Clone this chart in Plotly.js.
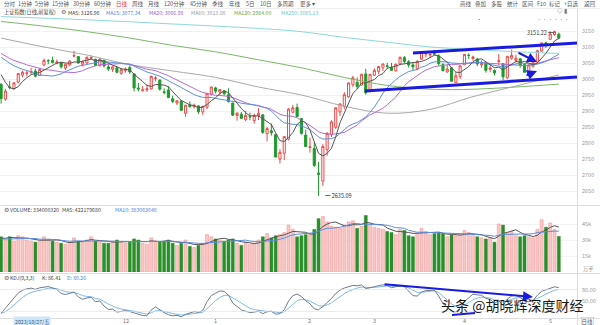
<!DOCTYPE html>
<html><head><meta charset="utf-8">
<script src="https://cdn.plot.ly/plotly-3.0.1.min.js"></script>
<style>html,body{margin:0;padding:0;background:#fff;}#chart{width:600px;height:325px;}</style>
</head><body><div id="chart"></div>
<script>
// ---------- DATA (Shanghai Composite, daily, 2023-10-23 .. 2024-05-08) ----------
const opens = [2983,2937,2975,2970,2990,3012,3018,
3021,3025,3011,3044,3057,3058,3050,3051,3034,3044,3072,3070,3046,3050,3065,3062,3041,3058,3038,3030,3035,3018,
3027,3036,3016,2972,2963,2966,2969,3002,2997,2960,2966,2938,2925,2931,2893,2919,2913,2916,2897,2912,2953,
2972,2959,2963,2951,2925,2886,2890,2873,2882,2870,2885,2888,2829,2838,2826,2750,2768,2812,2896,2911,2876,2825,
2786,2783,2706,2681,2779,2826,2849,2897,2914,2944,2982,2990,2981,3016,2962,
3012,3024,3035,3041,3037,3025,3047,3067,3054,3044,3032,3062,3078,3075,3080,3072,3045,3022,3035,2989,3008,
3044,3074,3064,3062,3044,3049,3030,3027,3055,3048,3004,3065,3058,3063,3045,3017,3040,3053,3087,3113,
3124,3139,3140];
const highs = [2988,2969,2994,2989,3019,3026,3027,
3035,3032,3035,3064,3062,3070,3061,3055,3048,3059,3088,3072,3058,3070,3073,3063,3065,3060,3045,3040,3038,3035,
3036,3043,3018,2988,2978,2983,3011,3009,2998,2971,2978,2948,2934,2934,2919,2930,2923,2918,2915,2956,2976,
2976,2967,2965,2971,2926,2897,2897,2900,2895,2892,2909,2889,2851,2861,2829,2781,2822,2909,2919,2923,2879,2841,
2817,2802,2741,2796,2834,2871,2912,2924,2959,2988,3010,3005,3016,3032,3015,
3033,3040,3048,3051,3050,3048,3070,3072,3059,3052,3060,3086,3087,3080,3091,3077,3050,3046,3037,3022,3042,
3078,3080,3073,3066,3058,3054,3043,3030,3078,3049,3071,3092,3076,3066,3049,3045,3056,3092,3114,3116,
3149,3151.22,3145];
const lows = [2923,2932,2968,2966,2986,3005,3008,
3015,3005,3009,3040,3046,3049,3046,3033,3028,3040,3067,3048,3039,3045,3060,3040,3040,3036,3025,3022,3018,3013,
3020,3016,2961,2961,2962,2960,2967,2993,2964,2952,2940,2925,2918,2901,2882,2910,2908,2891,2888,2906,2948,
2955,2949,2948,2927,2884,2870,2876,2868,2871,2860,2872,2829,2805,2823,2756,2736,2747,2808,2893,2881,2826,2787,
2770,2725,2635.09,2666,2760,2818,2844,2884,2905,2941,2975,2969,2979,2951,2958,
3009,3015,3025,3033,3026,3024,3043,3049,3036,3028,3027,3060,3067,3066,3074,3041,3024,3020,2993,2989,3000,
3044,3062,3057,3040,3035,3020,3021,3011,3043,2996,2999,3060,3052,3035,3020,3014,3036,3050,3086,3097,
3123,3135,3124];
const closes = [2939,2962,2974,2988,3017,3021,3019,
3023,3009,3030,3058,3057,3052,3053,3038,3046,3056,3073,3050,3054,3068,3067,3043,3062,3041,3031,3038,3021,3029,
3031,3022,2972,2969,2966,2969,3008,3003,2968,2958,2942,2930,2932,2902,2918,2914,2918,2898,2915,2955,2975,
2962,2967,2954,2929,2887,2893,2877,2886,2882,2886,2893,2833,2845,2832,2756,2771,2820,2906,2910,2883,2830,2789,
2788,2730,2702,2789,2830,2866,2910,2922,2951,2988,3004,2977,3015,2957,3015,
3027,3039,3047,3040,3027,3046,3068,3055,3044,3038,3054,3084,3079,3077,3078,3048,3026,3031,2993,3010,3041,
3077,3074,3069,3047,3048,3027,3034,3019,3057,3007,3071,3074,3065,3044,3021,3044,3052,3088,3113,3105,
3141,3148,3128];
const preCloses = [3125,3124,3108,3084,3132,3115,3102,3107,3110,3096,3076,3078,3106,3088,3074,3083,3058,3005,2983];
const volumes = [33000,30000,33000,29000,34000,33000,30000,
29000,28000,29000,33000,31000,29000,28000,27000,26000,28000,32000,29000,28000,30000,33000,29000,28000,27000,27000,29000,30000,28000,
27000,28000,31000,30000,27000,26000,32000,29000,28000,29000,30000,27000,25000,27000,30000,24000,23000,25000,27000,35000,33000,
31000,30000,29000,30000,31000,27000,25000,28000,26000,27000,30000,33000,36000,32000,34000,35000,37000,44000,40000,33000,34000,35000,
36000,40000,50000,52000,47000,43000,42000,41000,44000,47000,48000,41000,43000,53000,45000,
42000,41000,40000,38000,37000,35000,40000,39000,34000,33000,36000,41000,38000,35000,36000,37000,36000,33000,35000,34000,35000,
39000,37000,34000,33000,32000,31000,32000,28000,45000,44000,37000,38000,34000,33000,34000,33000,32000,40000,49000,42000,
46000,40000,33400];
const preVolumes = [31000,29000,30000,28000,32000,30000,29000,31000,35000];
// long moving averages (index, value)
const ma60Idx  = [0,10,20,30,40,50,60,70,80,90,100,110,120,130];
const ma60Val  = [3128,3100,3075,3045,3025,3005,2975,2950,2915,2893,2905,2945,2978,3013];
const ma120Idx = [0,10,20,30,40,50,60,70,80,90,100,110,120,130];
const ma120Val = [3180,3165,3148,3128,3105,3085,3060,3035,3005,2980,2968,2968,2975,2984];
const ma250Idx = [0,20,40,60,70,80,90,100,110,120,130];
const ma250Val = [3195,3185,3172,3158,3148,3130,3115,3100,3092,3085,3080];
const monthTicks  = [29,50,72,87,108,128];
const monthLabels = ['12','1','2','3','4','5'];
const priceTicks = [2650,2700,2750,2800,2850,2900,2950,3000,3050,3100,3150,3200];
const volTicks = [15000,30000,45000];

// ---------- derived ----------
const N = closes.length;
const idx = closes.map((_, i) => i);
function movAvg(series, pre, n){
  const all = pre.concat(series);
  return series.map((_, i) => { const e = pre.length + i; if (e - n + 1 < 0) return null;
    let s = 0; for (let j = e - n + 1; j <= e; j++) s += all[j]; return s / n; });
}
const ma5 = movAvg(closes, preCloses, 5), ma15 = movAvg(closes, preCloses, 15), ma20 = movAvg(closes, preCloses, 20);
const vma5 = movAvg(volumes, preVolumes, 5), vma10 = movAvg(volumes, preVolumes, 10);
const K = [], D = []; let kp = 15, dp = 18;
for (let i = 0; i < N; i++){
  const a = Math.max(0, i - 8);
  const lo = Math.min(...lows.slice(a, i + 1)), hi = Math.max(...highs.slice(a, i + 1));
  const rsv = hi === lo ? 50 : (closes[i] - lo) / (hi - lo) * 100;
  kp = 2/3*kp + rsv/3; dp = 2/3*dp + kp/3; K.push(kp); D.push(dp);
}
const volColors = closes.map((c, i) => c >= opens[i] ? '#f9c6c6' : '#2a8f2a');
const volLine = closes.map((c, i) => c >= opens[i] ? '#f08f8f' : '#2a8f2a');

const FONT = 'Noto Sans CJK SC, Noto Sans, sans-serif';
const PW = 577, H = 325;
const X = x => x / PW, Y = y => 1 - y / H;
const line = (x, y, nm, color, w, ya, shape) => ({type:'scatter', mode:'lines', x, y, name:nm, xaxis:'x', yaxis:ya,
  line:{color, width:w, shape:shape||'linear', smoothing:1}, hoverinfo:'skip', connectgaps:false});

const traces = [
  line(ma250Idx, ma250Val, 'MA250', '#8fd8d8', 1, 'y', 'spline'),
  line(ma120Idx, ma120Val, 'MA120', '#7cb86a', 1, 'y', 'spline'),
  line(ma60Idx, ma60Val, 'MA60', '#a9a9a9', 1, 'y', 'spline'),
  {type:'candlestick', x:idx, open:opens, high:highs, low:lows, close:closes, xaxis:'x', yaxis:'y',
   increasing:{line:{color:'#ec4a4a', width:1}, fillcolor:'#ffffff'},
   decreasing:{line:{color:'#1e9a2c', width:1}, fillcolor:'#1e9a2c'}, whiskerwidth:0, hoverinfo:'skip'},
  line(idx, ma20, 'MA20', '#b26bd6', 1, 'y'),
  line(idx, ma15, 'MA15', '#5b8fe0', 1, 'y'),
  line(idx, ma5, 'MA5', '#555555', 1, 'y'),
  {type:'bar', x:idx, y:volumes, xaxis:'x', yaxis:'y2', marker:{color:volColors, line:{color:volLine, width:0.5}}, hoverinfo:'skip'},
  line(idx, vma5, 'VMA5', '#555555', 1, 'y2'),
  line(idx, vma10, 'VMA10', '#5b8fe0', 1, 'y2'),
  line(idx, D, 'D', '#84b8e6', 1, 'y3'),
  line(idx, K, 'K', '#6d7c90', 1, 'y3'),
];

const ann = [];
const T = (x, y, text, color, size, anchor, extra) => ann.push(Object.assign({xref:'paper', yref:'paper', x:X(x), y:Y(y), text,
  showarrow:false, xanchor:anchor||'left', yanchor:'middle', font:{family:FONT, size:size||5.5, color:color||'#555'}}, extra||{}));
// toolbar
const tb = [['分时',2],['1分钟',16],['5分钟',33],['15分钟',50],['30分钟',71],['60分钟',92],['日线',114,'#e33'],['周线',130],['月线',146],
  ['120分钟',162],['45分钟',188],['季线',210],['年线',227],['5日',244],['10日',258],['多周期',275],['更多 ▾',298]];
tb.forEach(t => T(t[1], 4, t[0], t[2]||'#555', 5.5));
[['画线',458],['叠加',473],['多股',489],['统计',505],['区间',520],['F10',535],['标记',547],['+自选',562],['返回',582]].forEach(t => T(t[1], 4, t[0], '#555', 5.5));
// title row
T(2, 12.5, '上证指数(日线,前复权)', '#444', 5.2);
T(59, 12.5, '⚙', '#666', 5.5);
T(66, 12.5, 'MA5: 3126.96', '#444', 5.2);
T(104, 12.5, 'MA15: 3077.34', '#4f86dc', 5.2);
T(147, 12.5, 'MA20: 3066.98', '#a560cc', 5.2);
T(189, 12.5, 'MA60: 3013.08', '#a0a0a0', 5.2);
T(232, 12.5, 'MA120: 2984.00', '#5fa84b', 5.2);
T(279, 12.5, 'MA250: 3085.13', '#6cc9c9', 5.2);
T(555, 11, '◇ ▮', '#777', 5.5);
T(535, 19, '• • • • • •', '#e86bbf', 4.5);
T(475, 19, '•', '#555', 4.5);
T(525, 33, '3151.22 ━', '#333', 5.5);
T(323, 196, '━ 2635.09', '#333', 5.5);
// panel legends
T(2, 209.5, '⚙', '#666', 5.5);
T(8, 209.5, 'VOLUME: 334000320', '#444', 5.2);
T(60, 209.5, 'MA5: 422179680', '#444', 5.2);
T(113, 209.5, 'MA10: 383063648', '#4f86dc', 5.2);
T(2, 277.5, '⚙', '#666', 5.5);
T(8, 277.5, 'KDJ(9,3,3)', '#444', 5.2);
T(40, 277.5, 'K: 86.41', '#444', 5.2);
T(65, 277.5, 'D: 80.26', '#4f86dc', 5.2);
T(13, 321, '2023/10/27/五', '#3a5a7a', 5.2, 'left', {bgcolor:'#cfe6f6'});
T(581, 321, '日线', '#555', 5.5, 'left', {bordercolor:'#bbb', borderwidth:0.5, borderpad:0});
T(581, 269, '万手', '#888', 5.2);
// month labels on the shared x axis
monthTicks.forEach((m, k) => ann.push({xref:'x', yref:'paper', x:m, y:Y(321), text:monthLabels[k], showarrow:false,
  xanchor:'center', yanchor:'middle', font:{family:FONT, size:5.5, color:'#777'}}));
// watermark
T(512, 305, '头条 @胡晓辉深度财经', '#1a1a1a', 14, 'center');
// hand-drawn arrows
const BL = '#1b1be0';
const arrow = (x0, y0, x1, y1, w) => ann.push({xref:'paper', yref:'paper', x:X(x1), y:Y(y1), ax:x0 - x1, ay:y0 - y1,
  axref:'pixel', ayref:'pixel', text:'', showarrow:true, arrowhead:2, arrowsize:1, arrowwidth:w||2, arrowcolor:BL});
arrow(517, 52, 537, 62, 2);
arrow(525, 76, 537, 71, 2);
arrow(383, 284, 533, 297, 2);

const seg = (x0, y0, x1, y1, c, w) => ({type:'line', xref:'paper', yref:'paper', x0:X(x0), y0:Y(y0), x1:X(x1), y1:Y(y1), line:{color:c, width:w}});
const shapes = [
  seg(0, 205.5, 600, 205.5, '#dddddd', 1),
  seg(0, 273.5, 600, 273.5, '#dddddd', 1),
  seg(0, 318.5, 600, 318.5, '#dddddd', 1),
  seg(0, 8.5, 600, 8.5, '#eeeeee', 1),
  seg(577.5, 9, 577.5, 325, '#dddddd', 1),
  seg(0, 289.5, 577, 289.5, '#f6d6c6', 0.6),
  seg(0, 311.5, 577, 311.5, '#f6d6c6', 0.6),
  seg(413, 53, 577, 43, BL, 3),
  seg(365, 91, 577, 77, BL, 3),
  seg(452, 315, 475, 313, BL, 2),
];

const layout = {
  width:600, height:325, margin:{l:0, r:23, t:0, b:0}, paper_bgcolor:'#fff', plot_bgcolor:'#fff', showlegend:false,
  font:{family:FONT, size:7, color:'#555'}, bargap:0.3, hovermode:false,
  xaxis:{range:[-0.256, 134.24], anchor:'y3', showticklabels:false, showgrid:false, zeroline:false, showline:false, ticks:'',
    rangeslider:{visible:false}, fixedrange:true},
  yaxis:{domain:[Y(203), Y(16)], range:[2612.5, 3196.9], side:'right', anchor:'x', tickvals:priceTicks, showgrid:true,
    gridcolor:'#f1f1f1', zeroline:false, showline:false, ticks:'', tickfont:{size:5.5, color:'#999'}, ticklabelstandoff:4},
  yaxis2:{domain:[Y(272), Y(215)], range:[0, 53437.5], side:'right', anchor:'x', tickvals:volTicks, showgrid:true,
    gridcolor:'#f3f3f3', zeroline:false, showline:false, ticks:'', tickfont:{size:5.5, color:'#999'}, ticklabelstandoff:4},
  yaxis3:{domain:[Y(318), Y(280)], range:[5.4, 108.1], side:'right', anchor:'x', tickvals:[80, 50], ticktext:['80.00','50.00'],
    showgrid:false, zeroline:false, showline:false, ticks:'', tickfont:{size:5.5, color:'#999'}, ticklabelstandoff:4},
  annotations:ann, shapes:shapes
};
Plotly.newPlot('chart', traces, layout, {displayModeBar:false, staticPlot:true});
</script></body></html>
